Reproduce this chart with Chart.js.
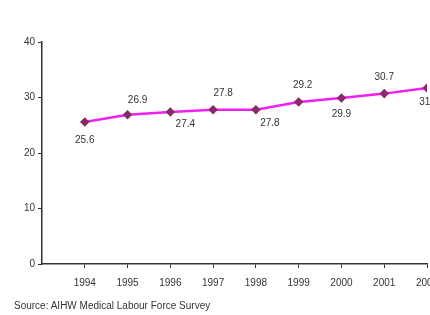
<!DOCTYPE html>
<html>
<head>
<meta charset="utf-8">
<script src="https://cdn.jsdelivr.net/npm/chart.js@4"></script>
<style>
  html, body { margin: 0; padding: 0; background: #fff; overflow: hidden; width: 430px; height: 315px; }
  #wrap { position: absolute; left: 0; top: 0; width: 470px; height: 315px; }
  #src { position: absolute; left: 14px; top: 300px; font: 10px "Liberation Sans", Arial, sans-serif; color: #333; white-space: nowrap; }
</style>
</head>
<body>
<div id="wrap"><canvas id="c" width="470" height="315"></canvas></div>
<div id="src">Source: AIHW Medical Labour Force Survey</div>
<script>
const categories = [1994, 1995, 1996, 1997, 1998, 1999, 2000, 2001, 2002];
const values = [25.6, 26.9, 27.4, 27.8, 27.8, 29.2, 29.9, 30.7, 31.7];
const yTicks = [0, 10, 20, 30, 40];

// label placement (style only): [dx, dy] relative to the point
const labelOffsets = [[0, 18], [10, -14], [15, 12], [10, -16], [14, 14], [4, -17], [0, 16], [0, -16], [2, 14]];

const dataLabels = {
  id: 'dataLabels',
  afterDatasetsDraw(chart) {
    const ctx = chart.ctx;
    const meta = chart.getDatasetMeta(0);
    ctx.save();
    ctx.font = '10px "Liberation Sans", Arial, sans-serif';
    ctx.fillStyle = '#333';
    ctx.textAlign = 'center';
    ctx.textBaseline = 'middle';
    meta.data.forEach((pt, i) => {
      const off = labelOffsets[i];
      ctx.fillText(values[i].toFixed(1), pt.x + off[0], pt.y + off[1]);
    });
    ctx.restore();
  }
};

new Chart(document.getElementById('c'), {
  type: 'line',
  data: {
    datasets: [{
      data: categories.map((c, i) => ({ x: c, y: values[i] })),
      borderColor: '#f020f0',
      borderWidth: 2.5,
      pointBackgroundColor: '#8a2a6a',
      pointBorderColor: '#8a2a6a',
      pointStyle: 'rectRot',
      pointRadius: 3,
      tension: 0
    }]
  },
  options: {
    responsive: false,
    animation: false,
    events: [],
    layout: { padding: { left: 0, right: 43, top: 42, bottom: 0 } },
    plugins: { legend: { display: false }, tooltip: { enabled: false }, title: { display: false } },
    scales: {
      x: {
        type: 'linear',
        min: categories[0] - 1,
        max: categories[categories.length - 1],
        afterBuildTicks(scale) { scale.ticks = categories.map(v => ({ value: v })); },
        afterFit(scale) { scale.height = 51; },
        ticks: {
          autoSkip: false,
          maxRotation: 0,
          padding: 9,
          color: '#333',
          font: { family: '"Liberation Sans", Arial, sans-serif', size: 10 },
          callback: v => String(v)
        },
        grid: { display: true, drawOnChartArea: false, drawTicks: true, tickLength: 4, color: '#333', lineWidth: 1 },
        border: { display: true, color: '#333', width: 1.5 }
      },
      y: {
        min: 0,
        max: 40,
        afterBuildTicks(scale) { scale.ticks = yTicks.map(v => ({ value: v })); },
        afterFit(scale) { scale.width = 42; },
        ticks: {
          padding: 3,
          color: '#333',
          font: { family: '"Liberation Sans", Arial, sans-serif', size: 10 }
        },
        grid: { display: true, drawOnChartArea: false, drawTicks: true, tickLength: 4, color: '#333', lineWidth: 1 },
        border: { display: true, color: '#333', width: 1.5 }
      }
    }
  },
  plugins: [dataLabels]
});
</script>
</body>
</html>
